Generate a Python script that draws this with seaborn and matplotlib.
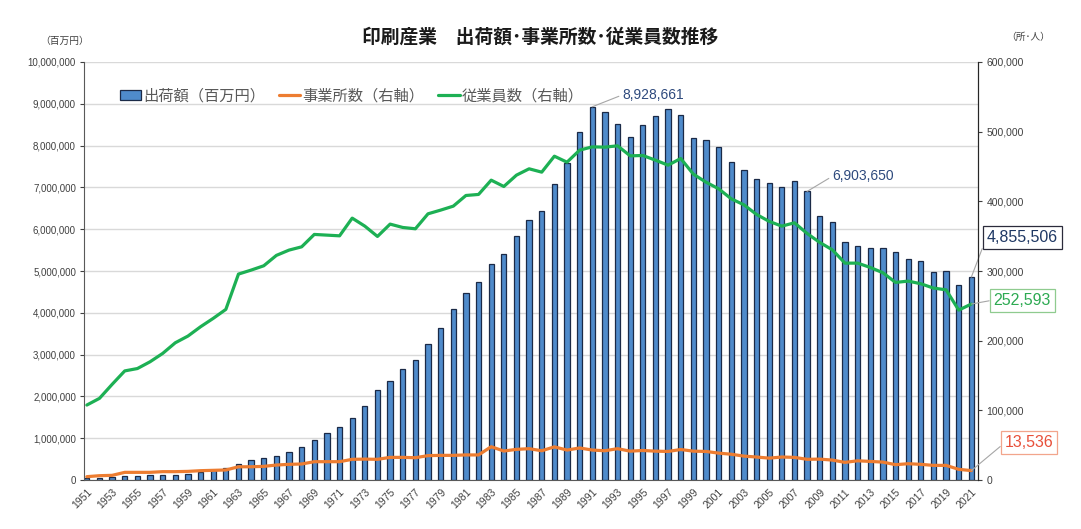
import matplotlib
matplotlib.use("Agg")
import matplotlib.pyplot as plt
from matplotlib.patches import Patch
from matplotlib.lines import Line2D
from matplotlib.ticker import FuncFormatter, MultipleLocator
import seaborn as sns
import pandas as pd

sns.set_style("white")
plt.rcParams['font.family'] = ['Liberation Sans', 'Noto Sans CJK JP']

years = list(range(1951, 2022))

# 出荷額 (百万円)
shipments = [
    40000, 56000, 80000, 88000, 96000, 112000, 128000, 128000, 144000, 192000,
    232000, 280000, 392000, 480000, 520000, 576000, 680000, 800000, 960000, 1130000,
    1260000, 1480000, 1780000, 2150000, 2370000, 2650000, 2870000, 3260000, 3630000, 4090000,
    4470000, 4740000, 5160000, 5400000, 5830000, 6210000, 6430000, 7090000, 7580000, 8330000,
    8928661, 8800000, 8510000, 8210000, 8490000, 8710000, 8880000, 8740000, 8170000, 8130000,
    7960000, 7600000, 7410000, 7210000, 7110000, 7000000, 7150000, 6903650, 6310000, 6170000,
    5700000, 5610000, 5540000, 5540000, 5460000, 5280000, 5230000, 4970000, 4990000, 4660000,
    4855506,
]

# 事業所数 (右軸)
establishments = [
    4800, 6200, 6700, 11000, 11000, 11000, 12000, 12000, 12400, 13400,
    13900, 14400, 19000, 19000, 19600, 21500, 22500, 23000, 26300, 26300,
    26300, 29700, 30000, 29700, 32500, 32500, 32000, 35000, 35400, 35400,
    36000, 36000, 47800, 41600, 44000, 45000, 42000, 47600, 43000, 46000,
    43000, 42000, 45000, 41400, 42400, 41400, 41000, 43800, 41400, 41000,
    38600, 37000, 34300, 33000, 31400, 33000, 32500, 29700, 30000, 28600,
    25300, 27600, 26700, 25700, 22000, 23400, 22500, 21000, 21000, 15300,
    13536,
]

# 従業員数 (右軸)
employees = [
    107600, 117200, 137300, 156600, 160000, 169700, 181700, 197000, 206600, 220000,
    232000, 244900, 295600, 301300, 307500, 322400, 330000, 334700, 352500, 351500,
    350500, 375900, 364400, 349600, 367300, 362500, 360600, 382100, 387400, 393100,
    408400, 409900, 430400, 421300, 437600, 446700, 441900, 464800, 456200, 473500,
    478200, 477800, 479700, 465300, 465800, 459100, 451900, 461500, 439000, 427500,
    418000, 403600, 395000, 381200, 371200, 364400, 369200, 353900, 341000, 330400,
    311300, 311300, 305100, 297500, 283600, 285500, 281700, 275500, 273000, 243900,
    252593,
]

df = pd.DataFrame({
    "year": [str(y) for y in years],
    "pos": range(len(years)),
    "shipments": shipments,
    "establishments": establishments,
    "employees": employees,
})

BAR = "#4F8BCB"
BAR_EDGE = "#1B2A47"
ORANGE = "#ED7D31"
GREEN = "#1DB054"
TXT = "#404040"
XLIM = (-0.2, 70.55)

fig = plt.figure(figsize=(10.81, 5.29), dpi=100)
ax = fig.add_axes([0.078, 0.0926, 0.827, 0.7902])

sns.barplot(data=df, x="year", y="shipments", color=BAR, saturation=1,
            width=0.42, edgecolor=BAR_EDGE, linewidth=0.9, ax=ax)
ax.set_ylim(0, 10_000_000)
ax.yaxis.set_major_locator(MultipleLocator(1_000_000))
ax.yaxis.set_major_formatter(FuncFormatter(lambda v, p: f"{int(v):,}"))
ax.yaxis.grid(True, color="#D9D9D9", lw=1)
ax.set_axisbelow(True)
ax.set_xticks(range(0, len(years), 2))
ax.set_xticklabels(years[::2], rotation=45, ha="right", rotation_mode="anchor")
ax.set_xlim(*XLIM)
ax.set_xlabel("")
ax.set_ylabel("")
ax.tick_params(axis="y", direction="out", length=3, labelsize=7, colors=TXT, pad=3)
ax.tick_params(axis="x", direction="out", length=3, labelsize=7.5, colors=TXT, pad=2)
ax.spines["top"].set_visible(False)
ax.spines["left"].set_color("#595959")
ax.spines["bottom"].set_color("#595959")

ax2 = ax.twinx()
sns.lineplot(data=df, x="pos", y="establishments", color=ORANGE, lw=2.3, ax=ax2)
sns.lineplot(data=df, x="pos", y="employees", color=GREEN, lw=2.3, ax=ax2)
ax2.set_ylim(0, 600_000)
ax2.set_xlim(*XLIM)
ax2.yaxis.set_major_locator(MultipleLocator(100_000))
ax2.yaxis.set_major_formatter(FuncFormatter(lambda v, p: f"{int(v):,}"))
ax2.set_xlabel("")
ax2.set_ylabel("")
ax2.tick_params(axis="y", direction="out", length=3, labelsize=7.5, colors=TXT, pad=3)
ax2.spines["top"].set_visible(False)
ax2.spines["left"].set_visible(False)
ax2.spines["bottom"].set_visible(False)
ax2.spines["right"].set_color("#262626")

# legend
handles = [
    Patch(facecolor=BAR, edgecolor=BAR_EDGE, lw=0.9),
    Line2D([], [], color=ORANGE, lw=2.3),
    Line2D([], [], color=GREEN, lw=2.3),
]
labels = ["出荷額（百万円）", "事業所数（右軸）", "従業員数（右軸）"]
ax2.legend(handles, labels, loc="center left", bbox_to_anchor=(0.024, 0.919),
           ncol=3, frameon=False, fontsize=11, labelcolor="#595959",
           handlelength=1.4, handleheight=0.65, handletextpad=0.15, columnspacing=0.9)

# data labels
lead = dict(arrowstyle="-", color="#A6A6A6", lw=0.8, shrinkA=0, shrinkB=0, relpos=(0, 0.5))
idx_max = shipments.index(max(shipments))
ax.annotate(f"{shipments[idx_max]:,}", xy=(idx_max, shipments[idx_max]),
            xytext=(21.5, 8.5), textcoords="offset points", ha="left", va="center",
            fontsize=10, color="#2E4A7D", arrowprops=lead)
ax.annotate(f"{shipments[57]:,}", xy=(57, shipments[57]),
            xytext=(18, 10.8), textcoords="offset points", ha="left", va="center",
            fontsize=10, color="#2E4A7D", arrowprops=lead)
ax.annotate(f"{shipments[-1]:,}", xy=(len(years) - 1, shipments[-1]),
            xytext=(11, 28.8), textcoords="offset points", ha="left", va="center",
            fontsize=11.5, color="#1F3864", annotation_clip=False, arrowprops=lead,
            bbox=dict(boxstyle="square,pad=0.25", fc="white", ec="#2B2B3B", lw=0.9))
ax2.annotate(f"{employees[-1]:,}", xy=(len(years) - 1, employees[-1]),
             xytext=(16, 2.9), textcoords="offset points", ha="left", va="center",
             fontsize=11.5, color="#2DAA52", annotation_clip=False, arrowprops=lead,
             bbox=dict(boxstyle="square,pad=0.25", fc="white", ec="#8FCB8F", lw=0.9))
ax2.annotate(f"{establishments[-1]:,}", xy=(len(years) - 1, establishments[-1]),
             xytext=(24, 20), textcoords="offset points", ha="left", va="center",
             fontsize=11.5, color="#E8503A", annotation_clip=False, arrowprops=lead,
             bbox=dict(boxstyle="square,pad=0.25", fc="white", ec="#F2A58C", lw=0.9))

fig.text(0.5, 0.930, "印刷産業\u3000出荷額･事業所数･従業員数推移", ha="center", va="center",
         fontsize=13.5, fontweight="bold", color="#1A1A1A",
         family=["Noto Sans CJK JP", "DejaVu Sans"])
fig.text(0.060, 0.922, "（百万円）", ha="center", va="center", fontsize=7, color=TXT)
fig.text(0.951, 0.930, "（所･人）", ha="center", va="center", fontsize=7, color=TXT)

fig.savefig("out.png", dpi=100)
